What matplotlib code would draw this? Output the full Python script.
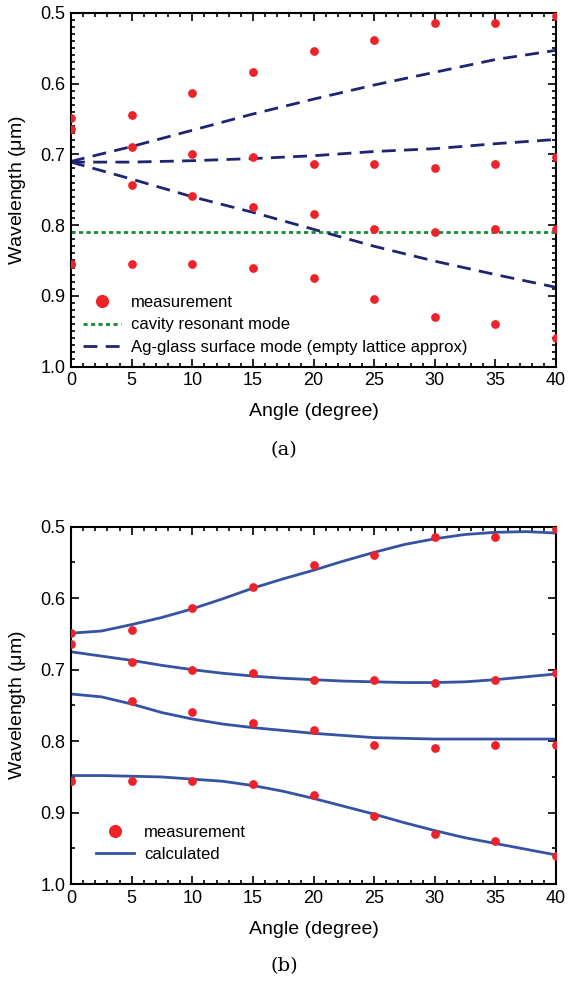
import matplotlib.pyplot as plt
from matplotlib.ticker import MultipleLocator, FormatStrFormatter

plt.rcParams["font.family"] = ["Liberation Sans", "DejaVu Sans"]
plt.rcParams["mathtext.fontset"] = "cm"

# measured resonances (same data in both panels)
angles = [0, 5, 10, 15, 20, 25, 30, 35, 40]
meas_1 = [0.649, 0.645, 0.614, 0.584, 0.554, 0.539, 0.515, 0.515, 0.504]
meas_2 = [0.664, 0.689, 0.700, 0.704, 0.714, 0.714, 0.719, 0.714, 0.704]
meas_3 = [0.855, 0.744, 0.759, 0.774, 0.784, 0.805, 0.810, 0.805, 0.805]
meas_4 = [0.855, 0.855, 0.855, 0.860, 0.875, 0.905, 0.930, 0.940, 0.960]

# panel (a): empty lattice approximation
spp_upper = [0.710, 0.689, 0.666, 0.643, 0.622, 0.602, 0.584, 0.566, 0.553]
spp_middle = [0.711, 0.711, 0.709, 0.706, 0.702, 0.696, 0.692, 0.685, 0.679]
spp_lower = [0.711, 0.735, 0.760, 0.782, 0.806, 0.830, 0.851, 0.870, 0.888]
cavity_mode = 0.81

# panel (b): calculated curves
calc_angles = [0, 2.5, 5, 7.5, 10, 12.5, 15, 17.5, 20, 22.5, 25, 27.5, 30, 32.5, 35, 37.5, 40]
calc_1 = [0.649, 0.646, 0.637, 0.627, 0.615, 0.601, 0.586, 0.573, 0.561, 0.548, 0.536,
          0.525, 0.517, 0.511, 0.508, 0.507, 0.509]
calc_2 = [0.675, 0.681, 0.687, 0.694, 0.700, 0.705, 0.709, 0.712, 0.714, 0.716, 0.717,
          0.718, 0.718, 0.717, 0.714, 0.710, 0.706]
calc_3 = [0.734, 0.738, 0.748, 0.760, 0.769, 0.776, 0.781, 0.785, 0.789, 0.792, 0.795,
          0.796, 0.797, 0.797, 0.797, 0.797, 0.797]
calc_4 = [0.848, 0.848, 0.849, 0.850, 0.853, 0.856, 0.862, 0.870, 0.880, 0.891, 0.902,
          0.914, 0.925, 0.935, 0.943, 0.951, 0.959]

RED = "#EE2229"
NAVY = "#1F2470"
GREEN = "#1A8A3C"
BLUE = "#3652A3"


def style_axes(ax, y_minor):
    ax.set_xlim(0, 40)
    ax.set_ylim(1.0, 0.5)
    ax.xaxis.set_major_locator(MultipleLocator(5))
    ax.xaxis.set_minor_locator(MultipleLocator(1))
    ax.yaxis.set_major_locator(MultipleLocator(0.1))
    ax.yaxis.set_minor_locator(MultipleLocator(y_minor))
    ax.yaxis.set_major_formatter(FormatStrFormatter("%.1f"))
    ax.tick_params(which="both", direction="in", top=True, right=True,
                   labelsize=13, width=1.2, pad=4)
    ax.tick_params(which="major", length=6)
    ax.tick_params(which="minor", length=3)
    for sp in ax.spines.values():
        sp.set_linewidth(1.5)
    ax.set_xlabel("Angle (degree)", fontsize=14, labelpad=10)
    ax.set_ylabel("Wavelength ($\\mathregular{\\mu}$m)", fontsize=14, labelpad=9)


def plot_measurements(ax, label=True):
    for i, vals in enumerate([meas_1, meas_2, meas_3, meas_4]):
        ax.plot(angles, vals, "o", color=RED, markersize=6.3, mec="none",
                label="measurement" if (label and i == 0) else None, zorder=3)


fig = plt.figure(figsize=(5.68, 9.88), dpi=100)
ax_a = fig.add_axes([0.125, 0.629, 0.854, 0.358])
ax_b = fig.add_axes([0.125, 0.105, 0.854, 0.362])

# (a)
plot_measurements(ax_a)
ax_a.axhline(cavity_mode, color=GREEN, lw=2, ls=(0, (1.5, 1.2)),
             label="cavity resonant mode")
for i, line in enumerate([spp_upper, spp_middle, spp_lower]):
    ax_a.plot(angles, line, color=NAVY, lw=2, ls=(0, (5, 3)),
              label="Ag-glass surface mode (empty lattice approx)" if i == 0 else None)
style_axes(ax_a, 0.01)
ax_a.legend(loc="lower left", frameon=False, fontsize=12, markerscale=1.5,
            handlelength=2.3, handletextpad=0.6, borderaxespad=0.3, labelspacing=0.45,
            bbox_to_anchor=(0.0, 0.0))

# (b)
plot_measurements(ax_b)
for i, curve in enumerate([calc_1, calc_2, calc_3, calc_4]):
    ax_b.plot(calc_angles, curve, color=BLUE, lw=2,
              label="calculated" if i == 0 else None)
style_axes(ax_b, 0.05)
ax_b.legend(loc="lower left", frameon=False, fontsize=12, markerscale=1.5,
            handlelength=2.3, handletextpad=0.6, labelspacing=0.45,
            bbox_to_anchor=(0.02, 0.02))

fig.text(0.5, 0.544, "(a)", ha="center", va="center", fontsize=14,
         family="DejaVu Serif")
fig.text(0.5, 0.022, "(b)", ha="center", va="center", fontsize=14,
         family="DejaVu Serif")

fig.savefig("out.png", dpi=100)
